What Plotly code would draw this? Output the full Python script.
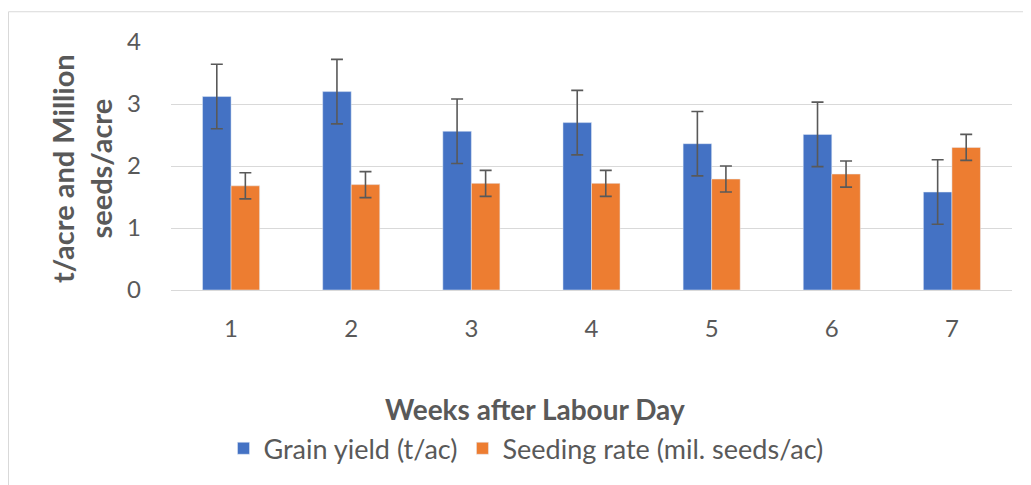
import plotly.graph_objects as go

weeks = ["1", "2", "3", "4", "5", "6", "7"]
grain_yield = [3.12, 3.20, 2.56, 2.70, 2.36, 2.51, 1.58]
grain_err = [0.52, 0.52, 0.52, 0.52, 0.52, 0.52, 0.52]
seeding_rate = [1.68, 1.70, 1.72, 1.72, 1.79, 1.87, 2.30]
seeding_err = [0.21, 0.21, 0.21, 0.21, 0.21, 0.21, 0.21]

FONT = "Lato"
OFF = 8  # page body margin
W, H = 1023, 477
L, R, T, B = 163, 19, 34, 193
pw, ph = W - L - R, H - T - B

def px_x(x):
    # x given in screenshot pixels
    return (x - OFF - L) / pw

def px_y(y):
    return (H - B - (y - OFF)) / ph

err_style = dict(type="data", color="#595959", thickness=1.6, width=6)

fig = go.Figure()
fig.add_trace(go.Bar(
    x=weeks, y=grain_yield, name="Grain yield (t/ac)",
    marker=dict(color="#4472C4"),
    error_y=dict(array=grain_err, **err_style),
))
fig.add_trace(go.Bar(
    x=weeks, y=seeding_rate, name="Seeding rate (mil. seeds/ac)",
    marker=dict(color="#ED7D31"),
    error_y=dict(array=seeding_err, **err_style),
))

fig.update_layout(
    width=W, height=H,
    margin=dict(l=L, r=R, t=T, b=B),
    paper_bgcolor="white", plot_bgcolor="white",
    barmode="group", bargap=0.525, bargroupgap=0,
    font=dict(family=FONT, color="#595959", size=24),
    showlegend=True,
    legend=dict(
        orientation="h", x=px_x(526), xanchor="center",
        y=px_y(452), yanchor="middle",
        font=dict(size=27, color="#595959"),
        itemwidth=30, traceorder="normal",
    ),
    xaxis=dict(
        showgrid=False, showline=False, ticks="", ticklabelstandoff=22,
        tickfont=dict(size=24, color="#595959"),
    ),
    yaxis=dict(
        range=[0, 4], dtick=1, showgrid=True, gridcolor="#D9D9D9",
        gridwidth=1, zeroline=True, zerolinecolor="#D9D9D9", zerolinewidth=1,
        showline=False, ticks="", ticklabelstandoff=29,
        tickfont=dict(size=24, color="#595959"),
    ),
    annotations=[
        dict(text="<b>Weeks after Labour Day</b>", xref="paper", yref="paper",
             x=px_x(535), y=px_y(412), xanchor="center", yanchor="middle",
             showarrow=False, font=dict(size=28, color="#595959", family=FONT)),
        dict(text="<b>t/acre and Million<br>seeds/acre</b>", xref="paper", yref="paper",
             x=px_x(82), y=px_y(170), xanchor="center", yanchor="middle",
             textangle=-90, showarrow=False,
             font=dict(size=29, color="#595959", family=FONT)),
    ],
    shapes=[
        dict(type="rect", xref="paper", yref="paper",
             x0=px_x(8.5), x1=px_x(1045), y0=px_y(11.5), y1=px_y(500),
             line=dict(color="#D9D9D9", width=1), fillcolor="rgba(0,0,0,0)",
             layer="below"),
    ],
)

fig.write_html("out.html")
